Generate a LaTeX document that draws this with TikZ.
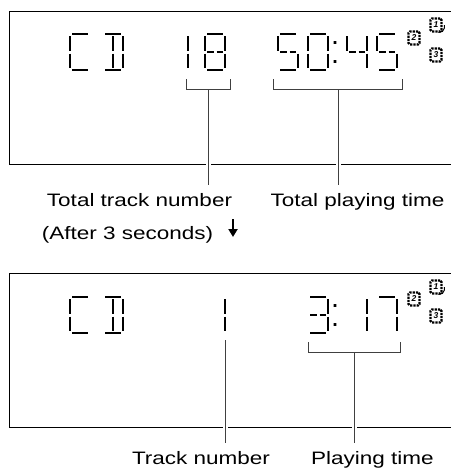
\documentclass[tikz,border=0pt]{standalone}
\usepackage{fontspec}
\setmainfont{Liberation Sans}
\newfontfamily\lblfont[FakeStretch=1.25]{Liberation Sans}
\usetikzlibrary{arrows.meta}

\newcommand{\lcdsega}{\draw[lcd] (2,0) -- (18,0);}
\newcommand{\lcdsegb}{\draw[lcd] (20,2) -- (20,16.5);}
\newcommand{\lcdsegc}{\draw[lcd] (20,19.5) -- (20,34);}
\newcommand{\lcdsegd}{\draw[lcd] (2,36) -- (18,36);}
\newcommand{\lcdsege}{\draw[lcd] (0,19.5) -- (0,34);}
\newcommand{\lcdsegf}{\draw[lcd] (0,2) -- (0,16.5);}
\newcommand{\lcdsegg}{\draw[lcd] (2,18) -- (8.5,18) (11.5,18) -- (18,18);}
\newcommand{\lcdsegh}{\draw[lcd] (10,2) -- (10,16.5);}
\newcommand{\lcdsegi}{\draw[lcd] (10,19.5) -- (10,34);}
\newcommand{\lcdchar}[3]{\begin{scope}[shift={(#1,#2)}]
  \foreach \s in {#3} {\csname lcdseg\s\endcsname}
  \end{scope}}
\newcommand{\lcdcolon}[2]{\fill (#1-1.4,#2+7) rectangle +(2.8,2.8)
  (#1-1.4,#2+26) rectangle +(2.8,2.8);}

\begin{document}
\begin{tikzpicture}[x=1pt,y=-1pt,
    lcd/.style={line width=1.6pt},
    panel/.style={line width=0.9pt},
    leader/.style={line width=0.6pt, black!75},
    halo/.style={preaction={draw=white, line width=5pt}},
    lbl/.style={font=\lblfont\fontsize{18}{20}\selectfont, inner sep=2pt},
    trk/.style={draw, line width=2.2pt, dash pattern=on 2.2pt off 1pt,
      rounded corners=1.5pt, minimum width=11pt, minimum height=13pt,
      inner sep=0pt, font=\bfseries\itshape\fontsize{8.5}{8.5}\selectfont}]
  \useasboundingbox (0,0) rectangle (450,471);

  \draw[panel] (451,11) -- (9,11) -- (9,164) -- (451,164);
  \draw[panel] (451,273) -- (9,273) -- (9,427) -- (451,427);

  \lcdchar{70}{34}{a,f,e,d}
  \lcdchar{103}{34}{a,h,i,b,c,d}
  \lcdchar{168}{34}{b,c}
  \lcdchar{205}{34}{a,b,c,d,e,f,g}
  \lcdchar{278}{34}{a,f,g,c,d}
  \lcdchar{308}{34}{a,b,c,d,e,f}
  \lcdcolon{335}{34}
  \lcdchar{347}{34}{f,g,b,c}
  \lcdchar{377}{34}{a,f,g,c,d}

  \lcdchar{70}{297}{a,f,e,d}
  \lcdchar{103}{297}{a,h,i,b,c,d}
  \lcdchar{205}{297}{b,c}
  \lcdchar{308}{297}{a,b,g,c,d}
  \lcdcolon{335}{297}
  \lcdchar{347}{297}{b,c}
  \lcdchar{377}{297}{a,b,c}

  \node[trk] (ione) at (436,25) {1};
  \node[trk] (itwo) at (414,38) {2};
  \node[trk] (ithree) at (436,55) {3};
  \draw[line width=1pt] ([xshift=1.8pt]ione.east) -- ++(0,3)
    to[out=-90,in=0] ++(-6,4.5);
  \node[trk] (jone) at (436,287) {1};
  \node[trk] (jtwo) at (414,299) {2};
  \node[trk] (jthree) at (436,316) {3};
  \draw[line width=1pt] ([xshift=1.8pt]jone.east) -- ++(0,3)
    to[out=-90,in=0] ++(-6,4.5);

  \node[lbl, anchor=base] (tottrack) at (139.5,206) {Total track number};
  \node[lbl, anchor=base] (tottime) at (357.5,206) {Total playing time};
  \node[lbl, anchor=base] (after) at (127.5,239) {(After 3 seconds)};
  \node[lbl, anchor=base] (track) at (201,464) {Track number};
  \node[lbl, anchor=base] (playtime) at (372.5,464) {Playing time};

  \coordinate (ttb) at (208,89);
  \coordinate (tpb) at (338,89);
  \coordinate (trb) at (225,340);
  \coordinate (ptb) at (354,352);
  \draw[leader, halo, shorten >=6pt] (ttb) -- (ttb |- tottrack.north);
  \draw[leader, halo, shorten >=6pt] (tpb) -- (tpb |- tottime.north);
  \draw[leader, halo, shorten >=6pt] (trb) -- (trb |- track.north);
  \draw[leader, halo, shorten >=6pt] (ptb) -- (ptb |- playtime.north);
  \draw[leader] (186,79) |- (230,89) -- (230,79);
  \draw[leader] (273,79) |- (402,89) -- (402,79);
  \draw[leader] (308,342) |- (400,352) -- (400,342);

  \coordinate (arrtop) at (233,219);
  \coordinate (arrbot) at (233,237);
  \draw[line width=2.4pt, -{Triangle[width=9pt,length=8pt]}] (arrtop) -- (arrbot);
\end{tikzpicture}
\end{document}
